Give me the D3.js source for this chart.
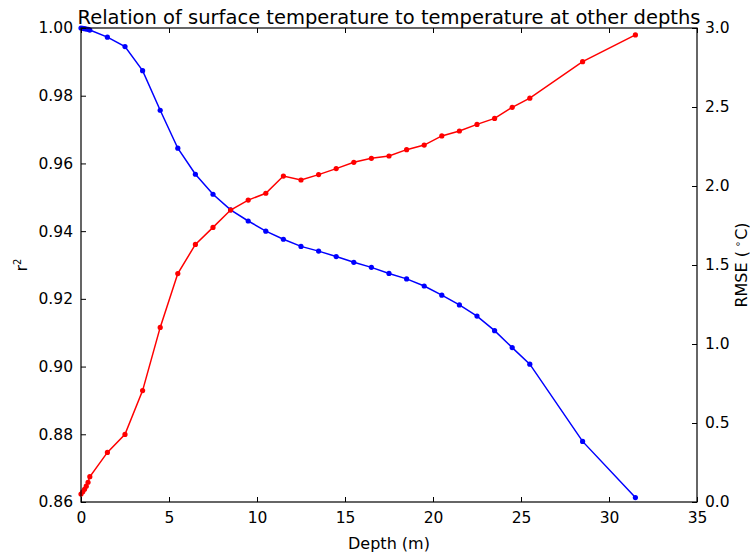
<!DOCTYPE html>
<html>
<head>
<meta charset="utf-8">
<script src="https://cdn.jsdelivr.net/npm/d3@7"></script>
<style>
  html, body { margin: 0; padding: 0; background: #fff; }
  svg { display: block; font-family: "DejaVu Sans", sans-serif; }
</style>
</head>
<body>
<svg id="chart" width="750" height="553"></svg>
<script>
// Sampling depths (m)
const depths = [0, 0.1, 0.2, 0.3, 0.4, 0.5, 1.5, 2.5, 3.5, 4.5, 5.5, 6.5, 7.5, 8.5, 9.5,
  10.5, 11.5, 12.5, 13.5, 14.5, 15.5, 16.5, 17.5, 18.5, 19.5, 20.5, 21.5, 22.5, 23.5,
  24.5, 25.5, 28.5, 31.5];

// Coefficient of determination against surface temperature
const r2Values = [1.0000, 0.9999, 0.9998, 0.9997, 0.9996, 0.9994, 0.9973, 0.9945, 0.9874,
  0.9757, 0.9645, 0.9568, 0.9509, 0.9463, 0.9430, 0.9400, 0.9376, 0.9355, 0.9341, 0.9325,
  0.9308, 0.9293, 0.9275, 0.9259, 0.9238, 0.9211, 0.9182, 0.9149, 0.9106, 0.9056, 0.9007,
  0.8779, 0.8613];

// Root mean square error (°C)
const rmseValues = [0.05, 0.065, 0.08, 0.10, 0.125, 0.16, 0.314, 0.428, 0.705, 1.105,
  1.446, 1.630, 1.738, 1.848, 1.911, 1.954, 2.063, 2.038, 2.072, 2.110, 2.150, 2.175,
  2.190, 2.230, 2.259, 2.317, 2.348, 2.390, 2.428, 2.498, 2.556, 2.787, 2.956];

const xTicks = [0, 5, 10, 15, 20, 25, 30, 35];
const leftTicks = [0.86, 0.88, 0.90, 0.92, 0.94, 0.96, 0.98, 1.00];
const rightTicks = [0.0, 0.5, 1.0, 1.5, 2.0, 2.5, 3.0];

const titleText = "Relation of surface temperature to temperature at other depths";

const margin = { left: 81, right: 53, top: 28, bottom: 51 };
const W = 750, H = 553;
const svg = d3.select("#chart");

const x = d3.scaleLinear().domain([0, 35]).range([margin.left, W - margin.right]);
const yL = d3.scaleLinear().domain([0.86, 1.00]).range([H - margin.bottom, margin.top]);
const yR = d3.scaleLinear().domain([0, 3.0]).range([H - margin.bottom, margin.top]);

const tickFont = "15.5px";
const tickLen = 5;
const labelFont = "16px";

function styleAxis(g) {
  g.select(".domain").remove();
  g.selectAll(".tick line").attr("stroke", "#000").attr("stroke-width", 1);
  g.selectAll(".tick text").attr("fill", "#000").style("font-size", tickFont)
    .style("font-family", "DejaVu Sans, sans-serif");
}

// Data series
const pts = depths.map((d, i) => ({ d, r2: r2Values[i], rmse: rmseValues[i] }));

const plot = svg.append("g");

const lineR2 = d3.line().x(p => x(p.d)).y(p => yL(p.r2));
const lineRmse = d3.line().x(p => x(p.d)).y(p => yR(p.rmse));

plot.append("path").datum(pts).attr("d", lineR2)
  .attr("fill", "none").attr("stroke", "#0000ff").attr("stroke-width", 1.5);
plot.selectAll("circle.r2").data(pts).join("circle").attr("class", "r2")
  .attr("cx", p => x(p.d)).attr("cy", p => yL(p.r2)).attr("r", 2.6).attr("fill", "#0000ff");

plot.append("path").datum(pts).attr("d", lineRmse)
  .attr("fill", "none").attr("stroke", "#ff0000").attr("stroke-width", 1.5);
plot.selectAll("circle.rmse").data(pts).join("circle").attr("class", "rmse")
  .attr("cx", p => x(p.d)).attr("cy", p => yR(p.rmse)).attr("r", 2.6).attr("fill", "#ff0000");

// Axes: ticks point inward on every side
const axBottom = svg.append("g").attr("transform", `translate(0,${H - margin.bottom})`)
  .call(d3.axisBottom(x).tickValues(xTicks).tickFormat(d3.format("d")).tickSizeInner(-tickLen).tickPadding(10));
styleAxis(axBottom);

const axTop = svg.append("g").attr("transform", `translate(0,${margin.top})`)
  .call(d3.axisTop(x).tickValues(xTicks).tickFormat("").tickSizeInner(-tickLen));
styleAxis(axTop);

const axLeft = svg.append("g").attr("transform", `translate(${margin.left},0)`)
  .call(d3.axisLeft(yL).tickValues(leftTicks).tickFormat(d3.format(".2f")).tickSizeInner(-tickLen).tickPadding(8));
styleAxis(axLeft);

const axRight = svg.append("g").attr("transform", `translate(${W - margin.right},0)`)
  .call(d3.axisRight(yR).tickValues(rightTicks).tickFormat(d3.format(".1f")).tickSizeInner(-tickLen).tickPadding(8));
styleAxis(axRight);

// Frame
svg.append("rect")
  .attr("x", margin.left).attr("y", margin.top)
  .attr("width", W - margin.left - margin.right).attr("height", H - margin.top - margin.bottom)
  .attr("fill", "none").attr("stroke", "#000").attr("stroke-width", 1.2);

// Title and axis labels
svg.append("text").attr("x", (margin.left + W - margin.right) / 2).attr("y", 24)
  .attr("text-anchor", "middle").style("font-size", "19.5px").attr("fill", "#000")
  .text(titleText);

svg.append("text").attr("x", (margin.left + W - margin.right) / 2).attr("y", 549)
  .attr("text-anchor", "middle").style("font-size", labelFont).attr("fill", "#000")
  .text("Depth (m)");

const ylab = svg.append("text")
  .attr("transform", `translate(27,${(margin.top + H - margin.bottom) / 2}) rotate(-90)`)
  .attr("text-anchor", "middle").style("font-size", labelFont).attr("fill", "#000");
ylab.append("tspan").text("r");
ylab.append("tspan").attr("dy", -6).style("font-size", "10px").text("2");

const rlab = svg.append("text")
  .attr("transform", `translate(747,${(margin.top + H - margin.bottom) / 2}) rotate(-90)`)
  .attr("text-anchor", "middle").style("font-size", labelFont).attr("fill", "#000");
rlab.append("tspan").text("RMSE (");
rlab.append("tspan").attr("dx", 4).attr("dy", -6).style("font-size", "10px").text("∘");
rlab.append("tspan").attr("dx", 1).attr("dy", 6).text("C)");
</script>
</body>
</html>
